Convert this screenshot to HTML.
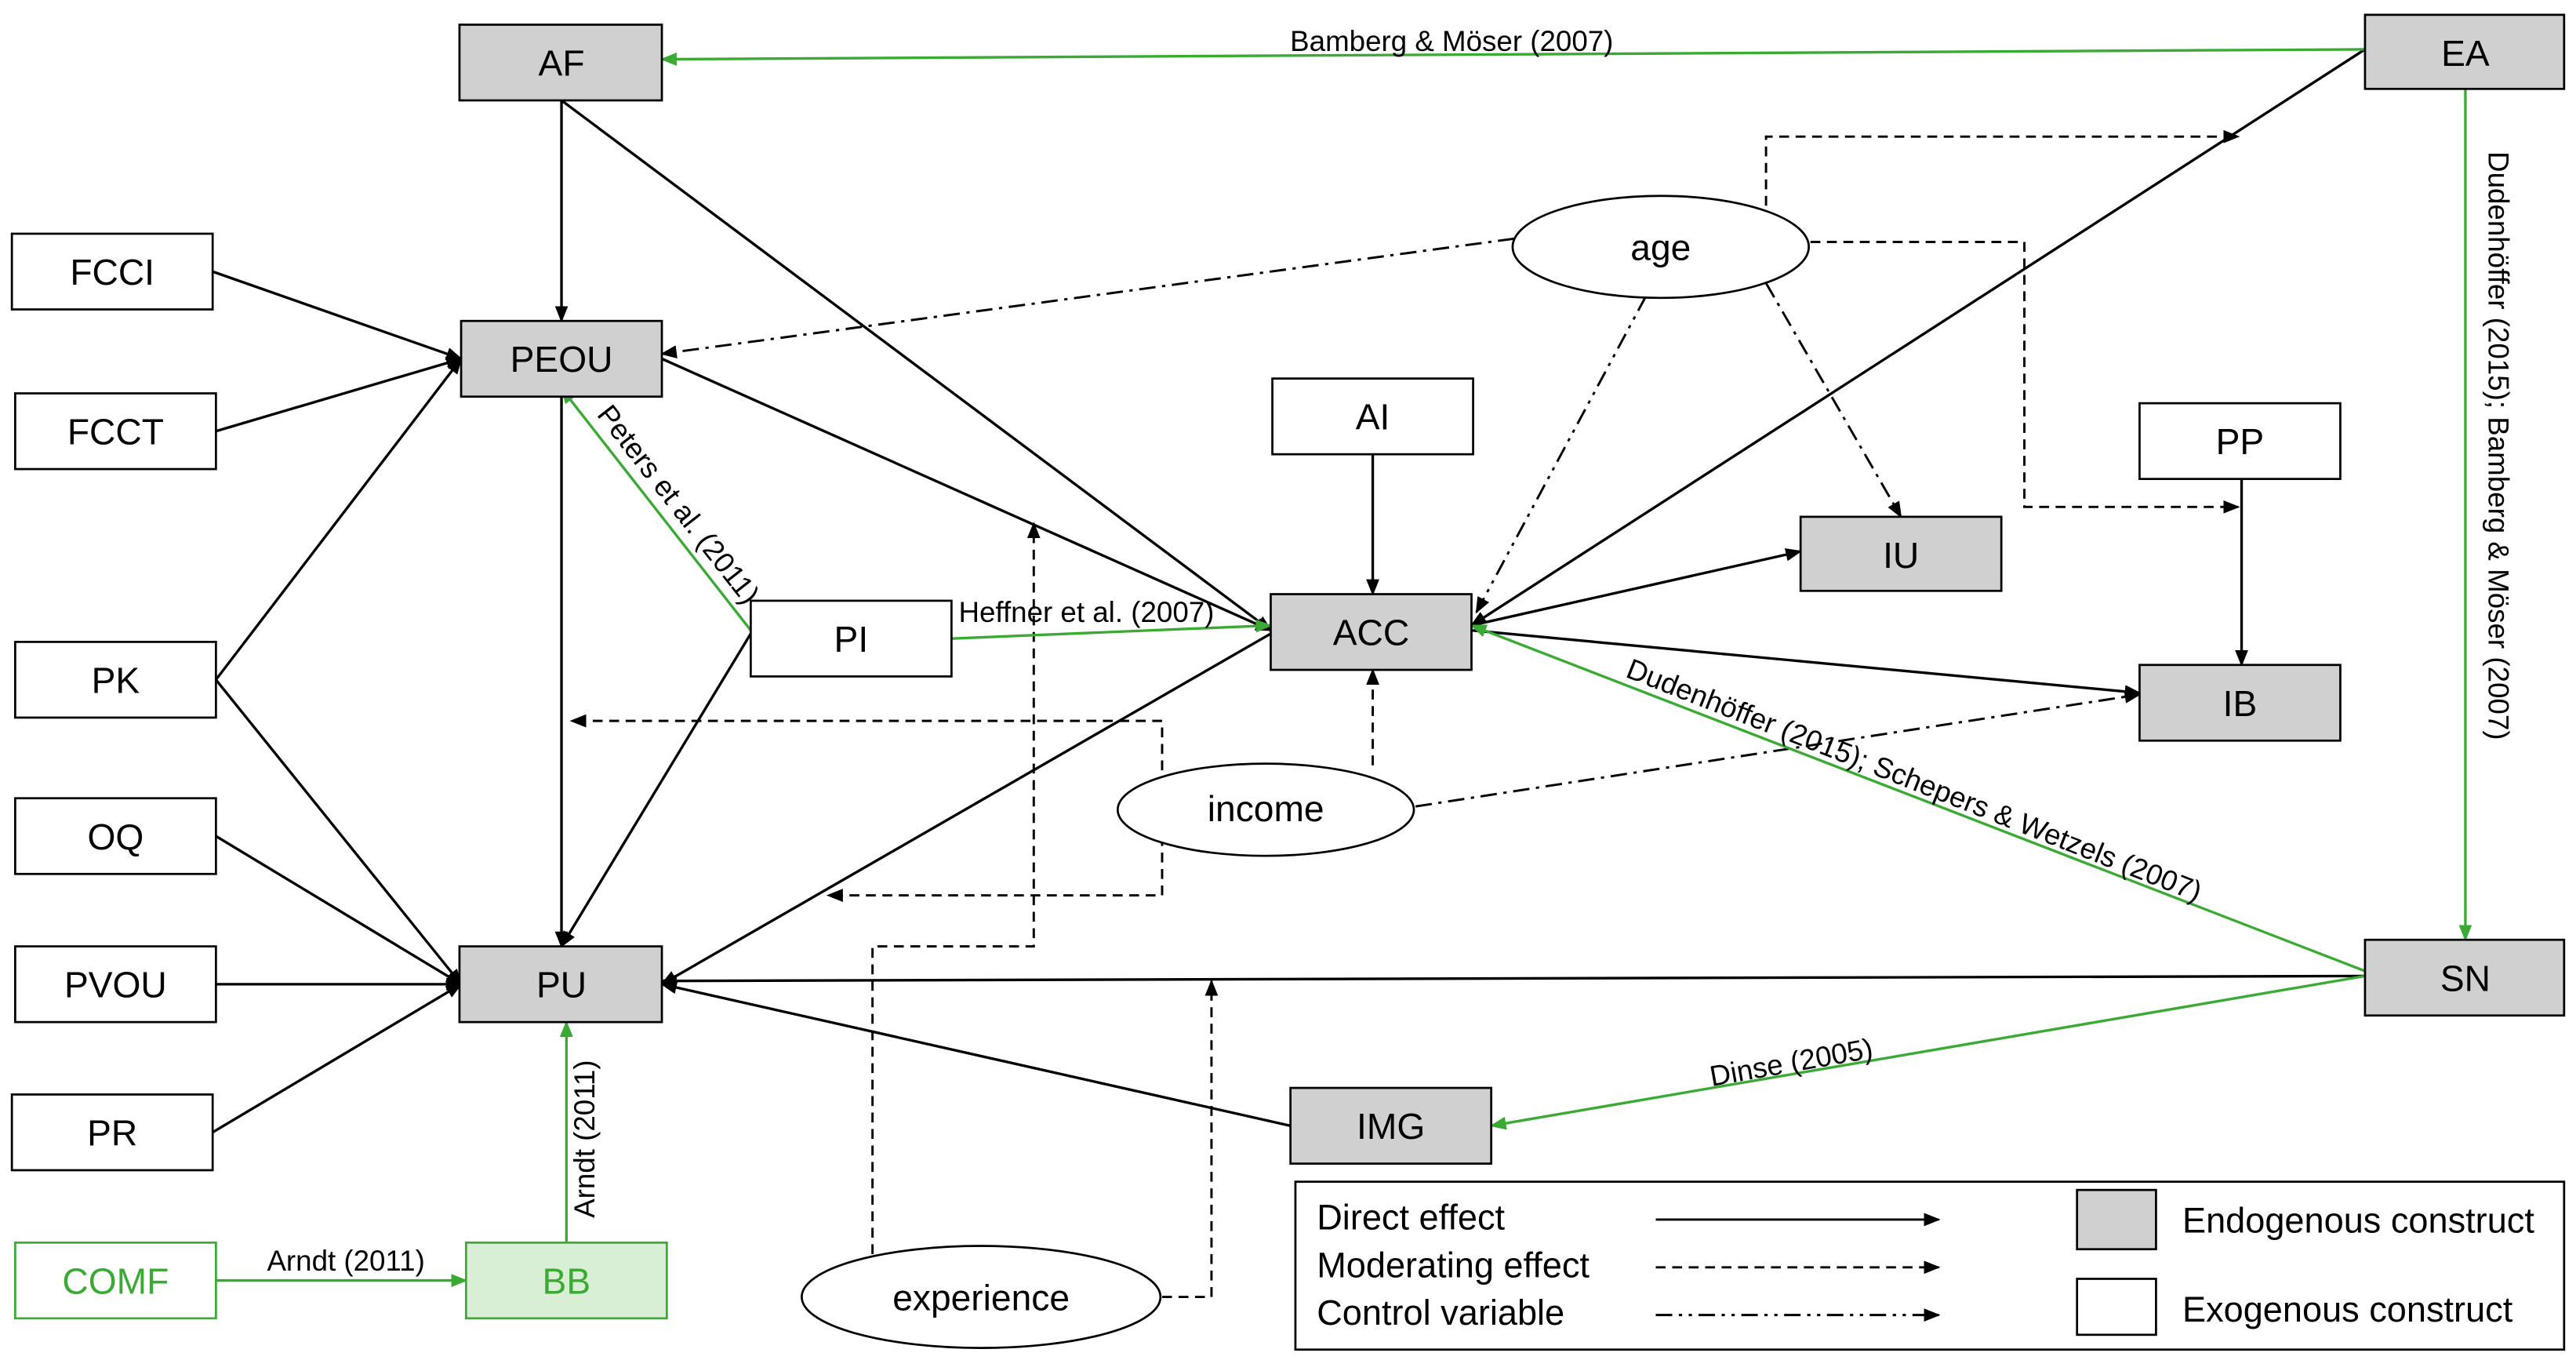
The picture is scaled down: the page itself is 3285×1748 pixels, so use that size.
<!DOCTYPE html>
<html><head><meta charset="utf-8"><style>
html,body{margin:0;padding:0;background:#fff;}
svg{display:block;}
text{font-family:"Liberation Sans",sans-serif;}
</style></head><body>
<svg width="3285" height="1748" viewBox="0 0 1565 833" xmlns="http://www.w3.org/2000/svg">
<defs>
<marker id="ab" markerWidth="10" markerHeight="8" refX="9" refY="4" orient="auto" markerUnits="userSpaceOnUse"><path d="M0,0 L10,4 L0,8 z" fill="#000"/></marker>
<marker id="ag" markerWidth="10" markerHeight="8" refX="9" refY="4" orient="auto" markerUnits="userSpaceOnUse"><path d="M0,0 L10,4 L0,8 z" fill="#3aaa35"/></marker>
</defs>
<g stroke="#000" stroke-width="1.6" fill="none" marker-end="url(#ab)">
<line x1="341" y1="61" x2="341" y2="195"/>
<line x1="341" y1="61" x2="772" y2="383"/>
<line x1="129" y1="165" x2="280" y2="218"/>
<line x1="131" y1="262" x2="280" y2="218"/>
<line x1="131" y1="413" x2="280" y2="218"/>
<line x1="131" y1="413" x2="280" y2="598"/>
<line x1="131" y1="508" x2="280" y2="598"/>
<line x1="131" y1="598" x2="280" y2="598"/>
<line x1="129" y1="688" x2="280" y2="598"/>
<line x1="341" y1="241" x2="341" y2="575"/>
<line x1="402" y1="218" x2="772" y2="383"/>
<line x1="456" y1="385" x2="341" y2="575"/>
<line x1="772" y1="385" x2="402" y2="598"/>
<line x1="1437" y1="30" x2="894" y2="380"/>
<line x1="834" y1="276" x2="834" y2="361"/>
<line x1="894" y1="380" x2="1094" y2="335"/>
<line x1="894" y1="383" x2="1300" y2="421"/>
<line x1="1362" y1="291" x2="1362" y2="404"/>
<line x1="1437" y1="593" x2="402" y2="596"/>
<line x1="784" y1="684" x2="402" y2="598"/>
</g>
<g stroke="#000" stroke-width="1.4" fill="none" marker-end="url(#ab)" stroke-dasharray="6,4">
<polyline points="1073,125 1073,83 1360,83"/>
<polyline points="1100,147 1230,147 1230,308 1360,308"/>
<line x1="834" y1="465" x2="834" y2="407"/>
<polyline points="706,468 706,438 347,438"/>
<polyline points="706,508 706,544 503,544"/>
<polyline points="530,762 530,575 628,575 628,318"/>
<polyline points="706,788 736,788 736,596"/>
</g>
<g stroke="#000" stroke-width="1.4" fill="none" marker-end="url(#ab)" stroke-dasharray="10,4,2,4">
<line x1="920" y1="145" x2="402" y2="215"/>
<line x1="1073" y1="172" x2="1155" y2="314"/>
<line x1="860" y1="490" x2="1300" y2="422"/>
</g>
<g stroke="#000" stroke-width="1.4" fill="none" marker-end="url(#ab)" stroke-dasharray="10,4,2,4,2,4">
<line x1="1000" y1="180" x2="897" y2="372"/>
</g>
<g stroke="#3aaa35" stroke-width="1.6" fill="none" marker-end="url(#ag)">
<line x1="1437" y1="30" x2="402" y2="36"/>
<line x1="456" y1="383" x2="341" y2="236"/>
<line x1="578" y1="388" x2="772" y2="380"/>
<line x1="1437" y1="590" x2="894" y2="380"/>
<line x1="1437" y1="593" x2="906" y2="684"/>
<line x1="1498" y1="54" x2="1498" y2="571"/>
<line x1="131" y1="778" x2="283" y2="778"/>
<line x1="344" y1="755" x2="344" y2="621"/>
</g>
<g stroke="#000" stroke-width="1.3" font-size="22" text-anchor="middle">
<rect x="279" y="15" width="123" height="46" fill="#d0d0d0"/>
<rect x="1437" y="9" width="121" height="45" fill="#d0d0d0"/>
<rect x="7" y="142" width="122" height="46" fill="#fff"/>
<rect x="9" y="239" width="122" height="46" fill="#fff"/>
<rect x="280" y="195" width="122" height="46" fill="#d0d0d0"/>
<rect x="9" y="390" width="122" height="46" fill="#fff"/>
<rect x="9" y="485" width="122" height="46" fill="#fff"/>
<rect x="9" y="575" width="122" height="46" fill="#fff"/>
<rect x="7" y="665" width="122" height="46" fill="#fff"/>
<rect x="9" y="755" width="122" height="46" fill="#fff" stroke="#3aaa35"/>
<rect x="283" y="755" width="122" height="46" fill="#d9efd5" stroke="#3aaa35"/>
<rect x="279" y="575" width="123" height="46" fill="#d0d0d0"/>
<rect x="456" y="365" width="122" height="46" fill="#fff"/>
<rect x="772" y="361" width="122" height="46" fill="#d0d0d0"/>
<rect x="773" y="230" width="122" height="46" fill="#fff"/>
<rect x="1094" y="314" width="122" height="45" fill="#d0d0d0"/>
<rect x="1300" y="245" width="122" height="46" fill="#fff"/>
<rect x="1300" y="404" width="122" height="46" fill="#d0d0d0"/>
<rect x="1437" y="571" width="121" height="46" fill="#d0d0d0"/>
<rect x="784" y="661" width="122" height="46" fill="#d0d0d0"/>
<ellipse cx="1009" cy="150" rx="90" ry="31" fill="#fff"/>
<ellipse cx="769" cy="492" rx="90" ry="28" fill="#fff"/>
<ellipse cx="596" cy="788" rx="109" ry="31" fill="#fff"/>
<rect x="787" y="718" width="771" height="102" fill="#fff"/>
<rect x="1262" y="723" width="48" height="36" fill="#d0d0d0"/>
<rect x="1262" y="777" width="48" height="34" fill="#fff"/>
</g>
<g font-size="22" text-anchor="middle" fill="#000">
<text x="341" y="46">AF</text>
<text x="1498" y="40">EA</text>
<text x="68" y="173">FCCI</text>
<text x="70" y="270">FCCT</text>
<text x="341" y="226">PEOU</text>
<text x="70" y="421">PK</text>
<text x="70" y="516">OQ</text>
<text x="70" y="606">PVOU</text>
<text x="68" y="696">PR</text>
<text x="70" y="786" fill="#3aaa35">COMF</text>
<text x="344" y="786" fill="#3aaa35">BB</text>
<text x="341" y="606">PU</text>
<text x="517" y="396">PI</text>
<text x="833" y="392">ACC</text>
<text x="834" y="261">AI</text>
<text x="1155" y="345">IU</text>
<text x="1361" y="276">PP</text>
<text x="1361" y="435">IB</text>
<text x="1498" y="602">SN</text>
<text x="845" y="692">IMG</text>
<text x="1009" y="158">age</text>
<text x="769" y="499">income</text>
<text x="596" y="796">experience</text>
</g>
<g font-size="21.5" fill="#000">
<text x="800" y="747">Direct effect</text>
<text x="800" y="776">Moderating effect</text>
<text x="800" y="805">Control variable</text>
<text x="1326" y="749">Endogenous construct</text>
<text x="1326" y="803">Exogenous construct</text>
</g>
<g stroke="#000" stroke-width="1.4" marker-end="url(#ab)">
<line x1="1006" y1="741" x2="1178" y2="741"/>
<line x1="1006" y1="770" x2="1178" y2="770" stroke-dasharray="6,4"/>
<line x1="1006" y1="799" x2="1178" y2="799" stroke-dasharray="10,4,2,4,2,4"/>
</g>
<g font-size="17.5" fill="#000">
<text x="882" y="31" text-anchor="middle">Bamberg &amp; Möser (2007)</text>
<text x="660" y="378" text-anchor="middle">Heffner et al. (2007)</text>
<text transform="translate(362,252) rotate(52)">Peters et al. (2011)</text>
<text transform="translate(987,411) rotate(21.5)">Dudenhöffer (2015); Schepers &amp; Wetzels (2007)</text>
<text transform="translate(1040,660) rotate(-10)">Dinse (2005)</text>
<text transform="translate(1512,92) rotate(90)">Dudenhöffer (2015); Bamberg &amp; Möser (2007)</text>
<text x="210" y="772" text-anchor="middle">Arndt (2011)</text>
<text transform="translate(361,740) rotate(-90)">Arndt (2011)</text>
</g>
</svg>
</body></html>
